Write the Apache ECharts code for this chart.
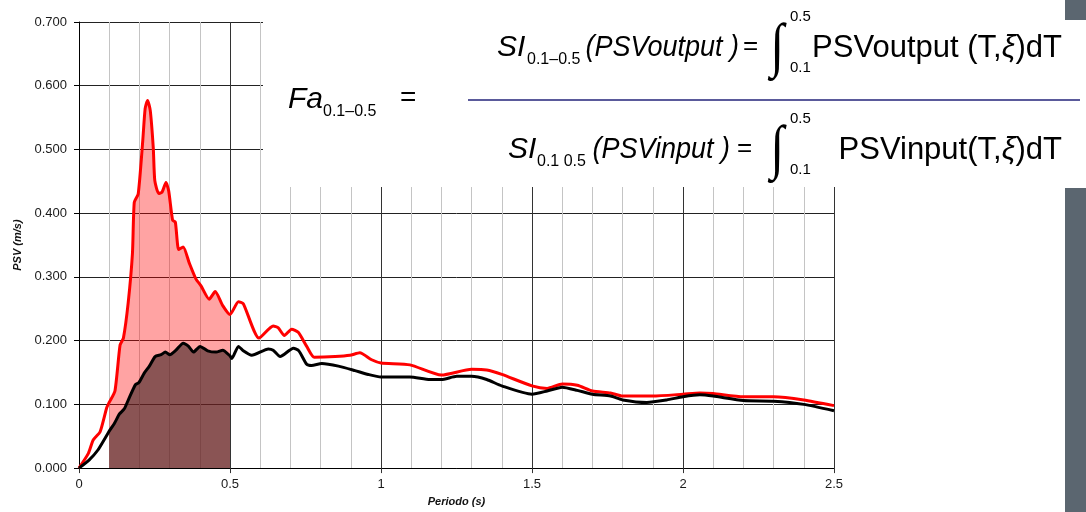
<!DOCTYPE html>
<html>
<head>
<meta charset="utf-8">
<script src="https://cdn.jsdelivr.net/npm/echarts@6/dist/echarts.min.js"></script>
<style>
html,body{margin:0;padding:0;background:#fff;}
#chart{width:1086px;height:512px;}
</style>
</head>
<body>
<div id="chart"></div>
<script>
// ---- Data ----
var outputT = [0, 0.031, 0.047, 0.07, 0.092, 0.1, 0.119, 0.136, 0.147, 0.163, 0.177, 0.183, 0.196, 0.211, 0.219, 0.227, 0.236, 0.246, 0.251, 0.264, 0.275, 0.288, 0.297, 0.31, 0.319, 0.33, 0.345, 0.365, 0.387, 0.404, 0.431, 0.451, 0.476, 0.5, 0.528, 0.544, 0.596, 0.643, 0.66, 0.68, 0.704, 0.726, 0.754, 0.779, 0.848, 0.897, 0.93, 0.969, 1.0, 1.096, 1.2, 1.3, 1.35, 1.4, 1.5, 1.55, 1.6, 1.65, 1.7, 1.76, 1.8, 1.9, 2.0, 2.056, 2.1, 2.2, 2.3, 2.4, 2.5];
var outputPSV = [0, 0.023, 0.044, 0.057, 0.095, 0.103, 0.121, 0.193, 0.204, 0.26, 0.337, 0.417, 0.43, 0.513, 0.564, 0.577, 0.561, 0.502, 0.451, 0.431, 0.433, 0.448, 0.435, 0.389, 0.386, 0.343, 0.347, 0.322, 0.297, 0.286, 0.265, 0.277, 0.255, 0.241, 0.261, 0.258, 0.204, 0.223, 0.22, 0.208, 0.218, 0.213, 0.191, 0.174, 0.175, 0.177, 0.181, 0.17, 0.165, 0.162, 0.146, 0.155, 0.154, 0.147, 0.129, 0.125, 0.132, 0.13, 0.121, 0.118, 0.113, 0.113, 0.116, 0.118, 0.117, 0.112, 0.112, 0.107, 0.098];
var inputT = [0, 0.034, 0.062, 0.095, 0.1, 0.117, 0.134, 0.15, 0.167, 0.187, 0.198, 0.216, 0.233, 0.252, 0.272, 0.286, 0.301, 0.321, 0.345, 0.363, 0.379, 0.401, 0.426, 0.454, 0.476, 0.5, 0.506, 0.528, 0.544, 0.572, 0.627, 0.643, 0.666, 0.71, 0.728, 0.754, 0.77, 0.804, 0.859, 0.914, 0.958, 1.0, 1.096, 1.162, 1.2, 1.251, 1.3, 1.35, 1.4, 1.5, 1.55, 1.6, 1.65, 1.7, 1.76, 1.8, 1.88, 1.946, 2.0, 2.056, 2.1, 2.2, 2.3, 2.4, 2.5];
var inputPSV = [0, 0.013, 0.028, 0.054, 0.058, 0.07, 0.085, 0.093, 0.111, 0.131, 0.134, 0.149, 0.16, 0.175, 0.178, 0.182, 0.178, 0.185, 0.196, 0.191, 0.182, 0.191, 0.184, 0.182, 0.185, 0.176, 0.172, 0.191, 0.184, 0.177, 0.187, 0.185, 0.175, 0.188, 0.184, 0.163, 0.161, 0.164, 0.16, 0.153, 0.147, 0.143, 0.143, 0.139, 0.139, 0.144, 0.144, 0.139, 0.129, 0.116, 0.121, 0.127, 0.122, 0.116, 0.113, 0.107, 0.103, 0.107, 0.112, 0.115, 0.113, 0.106, 0.105, 0.1, 0.09];
var xTickLabels = ['0', '0.5', '1', '1.5', '2', '2.5'];
var yTickLabels = ['0.000', '0.100', '0.200', '0.300', '0.400', '0.500', '0.600', '0.700'];
var bandStart = 0.1, bandEnd = 0.5;
var xAxisTitle = 'Periodo (s)';
var yAxisTitle = 'PSV (m/s)';

function pairs(t, v) { return t.map(function (x, i) { return [x, v[i]]; }); }
function band(t, v) { return pairs(t, v).filter(function (p) { return p[0] >= bandStart - 1e-9 && p[0] <= bandEnd + 1e-9; }); }

var FONT = '"Liberation Sans", Arial, sans-serif';
var chart = echarts.init(document.getElementById('chart'), null, { renderer: 'canvas' });

function txt(x, y, text, size, opts) {
  opts = opts || {};
  return {
    type: 'text', x: x, y: y, z: 102, scaleX: opts.sx || 1, scaleY: opts.sy || 1,
    style: {
      text: text, fill: '#000', align: opts.align || 'left', verticalAlign: 'middle',
      font: (opts.italic ? 'italic ' : '') + size + 'px ' + (opts.family || FONT),
      rich: opts.rich
    }
  };
}
var richXi = { xi: { fontStyle: 'italic', fontSize: 31, fontFamily: 'Liberation Sans' } };
var INT_FONT = '"Liberation Serif", serif';

chart.setOption({
  animation: false,
  backgroundColor: '#ffffff',
  grid: { left: 79, right: 252, top: 22, bottom: 37 },
  xAxis: {
    type: 'value', min: 0, max: 2.5, interval: 0.5,
    name: xAxisTitle, nameLocation: 'middle', nameGap: 26,
    nameTextStyle: { fontFamily: FONT, fontSize: 11, fontWeight: 'bold', fontStyle: 'italic', color: '#111' },
    axisLine: { show: true, onZero: false, lineStyle: { color: '#000', width: 1 } },
    axisTick: { show: true, length: 5, lineStyle: { color: '#333' } },
    axisLabel: { fontFamily: FONT, fontSize: 13, color: '#1a1a1a', margin: 10,
      formatter: function (v) { return xTickLabels[Math.round(v / 0.5)]; } },
    splitLine: { show: true, lineStyle: { color: '#333', width: 1 } },
    minorTick: { show: false, splitNumber: 5 },
    minorSplitLine: { show: true, lineStyle: { color: '#c4c4c4', width: 1 } }
  },
  yAxis: {
    type: 'value', min: 0, max: 0.7, interval: 0.1,
    name: yAxisTitle, nameLocation: 'middle', nameGap: 54, nameRotate: 90,
    nameTextStyle: { fontFamily: FONT, fontSize: 11, fontWeight: 'bold', fontStyle: 'italic', color: '#111' },
    axisLine: { show: true, lineStyle: { color: '#000', width: 1 } },
    axisTick: { show: true, length: 5, lineStyle: { color: '#000' } },
    axisLabel: { fontFamily: FONT, fontSize: 13, color: '#1a1a1a', margin: 12,
      formatter: function (v) { return yTickLabels[Math.round(v / 0.1)]; } },
    splitLine: { show: true, lineStyle: { color: '#222', width: 1 } }
  },
  series: [
    { name: 'fillOut', type: 'line', data: band(outputT, outputPSV), symbol: 'none', silent: true, z: 2,
      lineStyle: { width: 0, opacity: 0 }, areaStyle: { color: 'rgba(255,0,0,0.36)', opacity: 1, origin: 'start' } },
    { name: 'fillIn', type: 'line', data: band(inputT, inputPSV), symbol: 'none', silent: true, z: 3,
      lineStyle: { width: 0, opacity: 0 }, areaStyle: { color: 'rgba(72,39,39,0.64)', opacity: 1, origin: 'start' } },
    { name: 'PSVoutput', type: 'line', data: pairs(outputT, outputPSV), symbol: 'none', z: 4, smooth: 0.2,
      lineStyle: { color: '#ff0000', width: 3 } },
    { name: 'PSVinput', type: 'line', data: pairs(inputT, inputPSV), symbol: 'none', z: 5, smooth: 0.2,
      lineStyle: { color: '#000000', width: 3 } }
  ],
  graphic: [
    { type: 'rect', z: 100, shape: { x: 263, y: 0, width: 823, height: 187 }, style: { fill: '#ffffff' } },
    { type: 'rect', z: 101, shape: { x: 1065, y: 0, width: 21, height: 20 }, style: { fill: '#5b6670' } },
    { type: 'rect', z: 101, shape: { x: 1065, y: 188, width: 21, height: 324 }, style: { fill: '#5b6670' } },
    { type: 'line', z: 101, shape: { x1: 468, y1: 100, x2: 1080, y2: 100 }, style: { stroke: '#23237a', lineWidth: 1.5 } },
    // Fa
    txt(288, 100, 'Fa', 30, { italic: true }),
    txt(323, 112, '0.1\u20130.5', 16),
    txt(400, 98, '=', 28),
    // numerator
    txt(497, 48, 'SI', 30, { italic: true }),
    txt(527, 60, '0.1\u20130.5', 16),
    txt(739, 48, '(PSVoutput )', 30, { italic: true, align: 'right', sx: 0.9 }),
    txt(743, 47, '=', 26),
    txt(777, 49, '\u222B', 40, { sy: 1.5, sx: 1.25, align: 'center', family: INT_FONT }),
    txt(790, 17, '0.5', 15),
    txt(790, 68, '0.1', 15),
    txt(1062, 48, 'PSVoutput (T,{xi|\u03BE})dT', 31, { align: 'right', rich: richXi }),
    // denominator
    txt(508, 150, 'SI', 30, { italic: true }),
    txt(537, 162, '0.1 0.5', 16),
    txt(730, 150, '(PSVinput )', 30, { italic: true, align: 'right', sx: 0.9 }),
    txt(737, 149, '=', 26),
    txt(777, 151, '\u222B', 40, { sy: 1.5, sx: 1.25, align: 'center', family: INT_FONT }),
    txt(790, 119, '0.5', 15),
    txt(790, 170, '0.1', 15),
    txt(1062, 150, 'PSVinput(T,{xi|\u03BE})dT', 31, { align: 'right', rich: richXi })
  ]
});
</script>
</body>
</html>
